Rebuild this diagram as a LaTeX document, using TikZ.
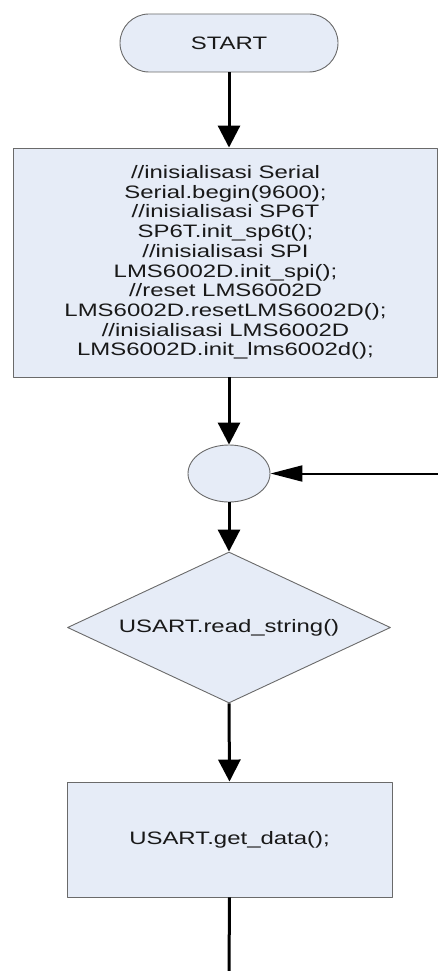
\documentclass[tikz,border=0pt]{standalone}
\usepackage{fontspec}
\setmainfont[FakeStretch=1.33]{Liberation Sans}
\usetikzlibrary{shapes.geometric,shapes.misc,arrows.meta}
\definecolor{isian}{HTML}{E6ECF7}
\definecolor{garis}{HTML}{6A6A6A}
\begin{document}
\begin{tikzpicture}[x=1pt, y=-1pt, font=\fontsize{18}{19.7}\selectfont, line join=round,
	blok/.style={draw=garis, fill=isian, line width=0.9pt, text=black!90, inner sep=0pt, align=center},
	alur/.style={line width=3pt, -{Triangle[length=22pt,width=22pt]}},
	balik/.style={line width=2pt, -{Triangle[length=32pt,width=16pt]}}]
				\useasboundingbox (0,0) rectangle (438,971);
				\path
				(229,43) coordinate (S)
				(225.5,262.5) coordinate (I)
				(229,473.5) coordinate (J)
				(229,627.5) coordinate (D)
				(229.5,839.5) coordinate (G)
				(438,473.5) coordinate (kanan)
				(229,971) coordinate (bawah)
				;
				\node[blok, rounded rectangle, minimum width=218pt, minimum height=58pt] (start) at (S) {START};
				\node[blok, rectangle, minimum width=424pt, minimum height=229pt] (init) at (I)
				{//inisialisasi Serial\\Serial.begin(9600);\\//inisialisasi SP6T\\SP6T.init\_sp6t();\\//inisialisasi SPI\\LMS6002D.init\_spi();\\//reset LMS6002D\\LMS6002D.resetLMS6002D();\\//inisialisasi LMS6002D\\LMS6002D.init\_lms6002d();};
				\node[blok, ellipse, minimum width=82pt, minimum height=57pt] (join) at (J) {};
				\node[blok, diamond, aspect=2.14, minimum width=323pt, minimum height=151pt] (baca) at (D) {USART.read\_string()};
				\node[blok, rectangle, minimum width=325pt, minimum height=115pt] (ambil) at (G) {USART.get\_data();};
				
				\draw[alur] (start.south) -- (start.south |- init.north);
				\draw[alur] (init.south -| join.north) -- (join.north);
				\draw[alur] (join.south) -- (baca.north);
				\draw[alur] (baca.south) -- (ambil.north);
				\draw[line width=3pt] (ambil.south) -- (bawah);
				\draw[balik] (kanan) -- (join.east);
		\end{tikzpicture}
\end{document}
